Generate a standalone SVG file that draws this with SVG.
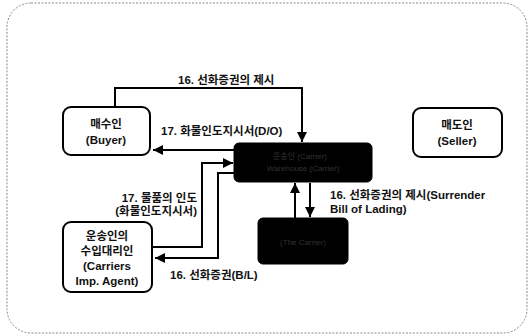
<svg xmlns="http://www.w3.org/2000/svg" width="529" height="336" viewBox="0 0 529 336">
<defs>
<marker id="ah" viewBox="0 0 10 10" refX="10" refY="5" markerWidth="11" markerHeight="10" markerUnits="userSpaceOnUse" orient="auto"><path d="M0,0 L10,5 L0,10 Z" fill="#000"/></marker>
<style>
.t{font-family:"Liberation Sans","Noto Sans CJK KR",sans-serif;font-size:11.5px;font-weight:bold;fill:#111}
.c{text-anchor:middle}
.r{text-anchor:end}
.box{fill:#fff;stroke:#000;stroke-width:2}
.dark{fill:#000;stroke:#000;stroke-width:1}
.dt{font-family:"Liberation Sans","Noto Sans CJK KR",sans-serif;font-size:8px;fill:#333;text-anchor:middle}
.ln{fill:none;stroke:#000;stroke-width:2}
</style>
</defs>
<rect x="7" y="3" width="520" height="330" rx="24" fill="#fff" stroke="#888" stroke-width="1" stroke-dasharray="2,1.5"/>
<g id="connectors">
<path class="ln" d="M115,107 V88 H302 V142" marker-end="url(#ah)"/>
<path class="ln" d="M234,150 H153" marker-end="url(#ah)"/>
<path class="ln" d="M151,247 H202 V163 H233" marker-end="url(#ah)"/>
<path class="ln" d="M234,173 H218 V258 H155" marker-end="url(#ah)"/>
<path class="ln" d="M295,218 V183" marker-end="url(#ah)"/>
<path class="ln" d="M310,183 V217" marker-end="url(#ah)"/>
<text class="t" x="178" y="84">16. 선화증권의 제시</text>
<text class="t" x="161" y="135">17. 화물인도지시서(D/O)</text>
<text class="t r" x="197" y="202">17. 물품의 인도</text>
<text class="t r" x="197" y="215">(화물인도지시서)</text>
<text class="t" x="330" y="199">16. 선화증권의 제시(Surrender</text>
<text class="t" x="330" y="213">Bill of Lading)</text>
<text class="t" x="170" y="279">16. 선화증권(B/L)</text>
</g>
<g id="buyer">
<rect class="box" x="63" y="107" width="87" height="48" rx="8"/>
<text class="t c" x="106" y="128">매수인</text>
<text class="t c" x="106" y="144">(Buyer)</text>
</g>
<g id="seller">
<rect class="box" x="413" y="108" width="89" height="49" rx="8"/>
<text class="t c" x="457" y="129">매도인</text>
<text class="t c" x="457" y="145">(Seller)</text>
</g>
<g id="carrier">
<rect class="dark" x="234" y="143" width="138" height="39" rx="5"/>
<text class="dt" x="300" y="159">운송인 (Carrier)</text>
<text class="dt" x="303" y="171">Warehouse (Carrier)</text>
</g>
<g id="bottom">
<rect class="dark" x="258" y="218" width="90" height="46" rx="5"/>
<text class="dt" x="303" y="245">(The Carrier)</text>
</g>
<g id="agent">
<rect class="box" x="63" y="222" width="89" height="70" rx="8"/>
<text class="t c" x="107" y="240">운송인의</text>
<text class="t c" x="107" y="255">수입대리인</text>
<text class="t c" x="107" y="270">(Carriers</text>
<text class="t c" x="107" y="285">Imp. Agent)</text>
</g>
</svg>
